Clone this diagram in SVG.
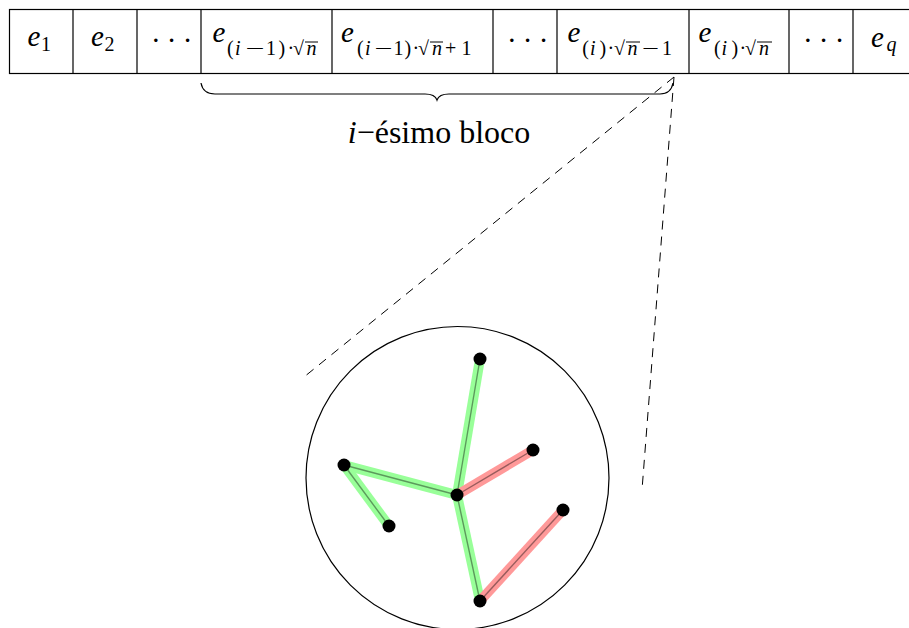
<svg xmlns="http://www.w3.org/2000/svg" width="909" height="628" viewBox="0 0 909 628">
<defs>
<style>
text{font-family:"Liberation Serif","Times New Roman",serif;fill:#000}
.m{font-size:29px;font-style:italic}
.s{font-size:20px}
.r{font-style:normal}
.dots{font-size:29px;letter-spacing:6.2px}
.grid{fill:none;stroke:#000;stroke-width:1.2}
.bar{stroke:#000;stroke-width:1}
.dash{fill:none;stroke:#000;stroke-width:1;stroke-dasharray:9 7}
.hg{stroke:#99ff99;stroke-width:10;stroke-linecap:butt}
.hr{stroke:#ff9999;stroke-width:10;stroke-linecap:butt}
.e{stroke:#000;stroke-opacity:0.4;stroke-width:1.4}
.dot{fill:#000}
</style>
</defs>
<g id="table">
<rect class="grid" x="9.5" y="9.5" width="910" height="64"/>
<line class="grid" x1="73" y1="9.5" x2="73" y2="73.5"/>
<line class="grid" x1="137" y1="9.5" x2="137" y2="73.5"/>
<line class="grid" x1="201" y1="9.5" x2="201" y2="73.5"/>
<line class="grid" x1="332" y1="9.5" x2="332" y2="73.5"/>
<line class="grid" x1="493" y1="9.5" x2="493" y2="73.5"/>
<line class="grid" x1="557" y1="9.5" x2="557" y2="73.5"/>
<line class="grid" x1="689" y1="9.5" x2="689" y2="73.5"/>
<line class="grid" x1="789" y1="9.5" x2="789" y2="73.5"/>
<line class="grid" x1="853" y1="9.5" x2="853" y2="73.5"/>
</g>
<g id="cell1"><text class="m" x="27.5" y="46">e<tspan class="s r" x="41" y="51">1</tspan></text></g>
<g id="cell2"><text class="m" x="91" y="46">e<tspan class="s r" x="104.5" y="51">2</tspan></text></g>
<g id="cell3"><text class="dots" x="151" y="50">···</text></g>
<g id="cell4"><text class="m" x="212.5" y="41.5">e<tspan class="s r" x="227" y="55">(</tspan><tspan class="s" x="235" y="55">i</tspan><tspan class="s r" x="245.5" y="55" textLength="19" lengthAdjust="spacingAndGlyphs">−</tspan><tspan class="s r" x="266" y="55">1</tspan><tspan class="s r" x="278.5" y="55">)</tspan><tspan class="s r" x="287.5" y="55">·</tspan><tspan class="s r" x="293" y="55">√</tspan><tspan class="s" x="306.5" y="55">n</tspan></text>
<line class="bar" x1="305" y1="42" x2="318" y2="42"/></g>
<g id="cell5"><text class="m" x="341" y="41.5">e<tspan class="s r" x="357" y="55">(</tspan><tspan class="s" x="365" y="55">i</tspan><tspan class="s r" x="374.5" y="55" textLength="18" lengthAdjust="spacingAndGlyphs">−</tspan><tspan class="s r" x="393.5" y="55">1</tspan><tspan class="s r" x="404.5" y="55">)</tspan><tspan class="s r" x="412.5" y="55">·</tspan><tspan class="s r" x="418" y="55">√</tspan><tspan class="s" x="432" y="55">n</tspan><tspan class="s r" x="445" y="55">+</tspan><tspan class="s r" x="461.5" y="55">1</tspan></text>
<line class="bar" x1="430" y1="42" x2="443" y2="42"/></g>
<g id="cell6"><text class="dots" x="507" y="50">···</text></g>
<g id="cell7"><text class="m" x="567.5" y="41.5">e<tspan class="s r" x="582.3" y="55">(</tspan><tspan class="s" x="590" y="55">i</tspan><tspan class="s r" x="599.5" y="55">)</tspan><tspan class="s r" x="607.5" y="55">·</tspan><tspan class="s r" x="614" y="55">√</tspan><tspan class="s" x="627.5" y="55">n</tspan><tspan class="s r" x="642" y="55" textLength="17" lengthAdjust="spacingAndGlyphs">−</tspan><tspan class="s r" x="662" y="55">1</tspan></text>
<line class="bar" x1="626" y1="42" x2="640" y2="42"/></g>
<g id="cell8"><text class="m" x="698.5" y="41.5">e<tspan class="s r" x="714" y="55">(</tspan><tspan class="s" x="721.5" y="55">i</tspan><tspan class="s r" x="731.5" y="55">)</tspan><tspan class="s r" x="739.5" y="55">·</tspan><tspan class="s r" x="745" y="55">√</tspan><tspan class="s" x="759" y="55">n</tspan></text>
<line class="bar" x1="757" y1="42" x2="772" y2="42"/></g>
<g id="cell9"><text class="dots" x="803" y="50">···</text></g>
<g id="cell10"><text class="m" x="871" y="46.5">e<tspan class="s" x="886.5" y="51">q</tspan></text></g>
<g id="brace"><path class="grid" d="M201,83 Q203,94 215,94 L425,94 Q435,94 437,100 Q439,94 449,94 L660,94 Q671,94 673,83"/></g>
<g id="label"><text font-size="32" x="439" y="143" text-anchor="middle"><tspan font-style="italic">i</tspan>−ésimo bloco</text></g>
<g id="connectors">
<line class="dash" x1="674" y1="77" x2="304" y2="377"/>
<line class="dash" x1="674" y1="77" x2="642" y2="490"/>
</g>
<g id="zoomcircle"><circle cx="457.5" cy="478" r="151.5" fill="none" stroke="#000" stroke-width="1.2"/></g>
<g id="edges">
<line class="hg" x1="480" y1="359" x2="457" y2="495"/>
<line class="hg" x1="344" y1="465" x2="457" y2="495"/>
<line class="hg" x1="344" y1="465" x2="389" y2="526"/>
<line class="hg" x1="457" y1="495" x2="480" y2="601"/>
<line class="hr" x1="457" y1="495" x2="533" y2="450"/>
<line class="hr" x1="480" y1="601" x2="563" y2="510"/>
<line class="e" x1="480" y1="359" x2="457" y2="495"/>
<line class="e" x1="344" y1="465" x2="457" y2="495"/>
<line class="e" x1="344" y1="465" x2="389" y2="526"/>
<line class="e" x1="457" y1="495" x2="480" y2="601"/>
<line class="e" x1="457" y1="495" x2="533" y2="450"/>
<line class="e" x1="480" y1="601" x2="563" y2="510"/>
</g>
<g id="n1"><circle class="dot" cx="480" cy="359" r="6.5"/></g>
<g id="n2"><circle class="dot" cx="533" cy="450" r="6.5"/></g>
<g id="n3"><circle class="dot" cx="344" cy="465" r="6.5"/></g>
<g id="n4"><circle class="dot" cx="457" cy="495" r="6.5"/></g>
<g id="n5"><circle class="dot" cx="389" cy="526" r="6.5"/></g>
<g id="n6"><circle class="dot" cx="563" cy="510" r="6.5"/></g>
<g id="n7"><circle class="dot" cx="480" cy="601" r="6.5"/></g>
</svg>
